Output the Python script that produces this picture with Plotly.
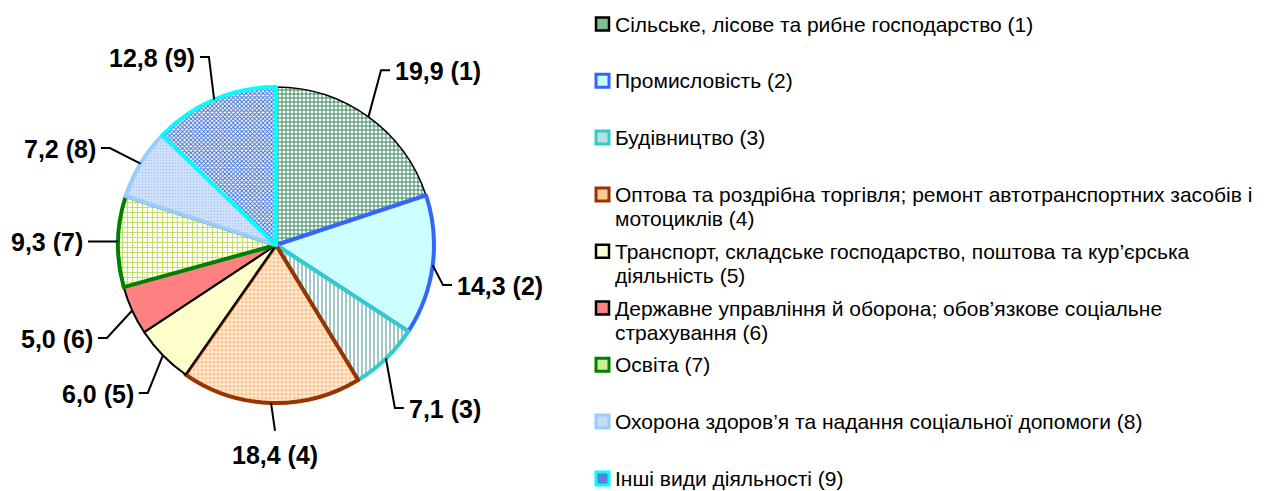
import math
import plotly.graph_objects as go

# ---------------- data ----------------
categories = [
    "Сільське, лісове та рибне господарство (1)",
    "Промисловість (2)",
    "Будівництво (3)",
    "Оптова та роздрібна торгівля; ремонт автотранспортних засобів і<br>мотоциклів (4)",
    "Транспорт, складське господарство, поштова та кур’єрська<br>діяльність (5)",
    "Державне управління й оборона; обов’язкове соціальне<br>страхування (6)",
    "Освіта (7)",
    "Охорона здоров’я та надання соціальної допомоги (8)",
    "Інші види діяльності (9)",
]
slice_numbers = [1, 2, 3, 4, 5, 6, 7, 8, 9]
shares = [19.9, 14.3, 7.1, 18.4, 6.0, 5.0, 9.3, 7.2, 12.8]

# ---------------- styles ----------------
W, H = 1268, 491
CX, CY, R = 276, 245, 158          # pie centre / radius in px
FONT = "Liberation Sans, Arial, sans-serif"

fill_colors = ["#FFFFFF", "#CCFFFF", "#FFFFFF", "#FFEBD6", "#FFFFCC",
               "#FF8080", "#FFFFF2", "#D6E6FF", "#FFFFFF"]
pattern_shapes = ["+", "", "|", ".", "", "", "+", ".", "x"]
pattern_fg = ["#1E7A45", "#CCFFFF", "#5FA3A3", "#FFC48A", "#FFFFCC",
              "#FF8080", "#B2D94C", "#AFCBF2", "#3366CC"]
pattern_size = [4, 4, 4, 4, 4, 4, 5, 3, 3]
pattern_solid = [0.4, 0.3, 0.3, 0.45, 0.3, 0.3, 0.3, 0.4, 0.5]
border_colors = ["#000000", "#3366FF", "#33CCCC", "#993300", "#000000",
                 "#000000", "#008000", "#99CCFF", "#00FFFF"]
border_widths = [1.5, 4, 4, 4, 2, 2, 4, 4, 4]
swatch_fill = ["#7DBF8E", "#CCFFFF", "#B8E0E0", "#FFCC99", "#FFFFCC",
               "#FF8080", "#CCEE99", "#C8DDF5", "#5A80D8"]
swatch_line_w = [2.5, 3, 3, 3, 2.5, 2.5, 3, 3, 3]

# label placement (elbow position relative to slice mid-angle)
label_angle_shift = [-4.8, 6.1, 8.0, -1.5, -4.8, -4.3, -0.1, -0.7, 3.4]
label_radius = [1.29, 1.087, 1.277, 1.177, 1.239, 1.221, 1.133, 1.217, 1.263]

def px_x(x):
    return x / W

def px_y(y):
    return 1 - y / H

fig = go.Figure()
fig.add_trace(go.Pie(
    values=shares,
    labels=[f"({n})" for n in slice_numbers],
    sort=False,
    direction="clockwise",
    rotation=0,
    textinfo="none",
    hoverinfo="label+value",
    showlegend=False,
    domain=dict(x=[px_x(CX - R), px_x(CX + R)], y=[px_y(CY + R), px_y(CY - R)]),
    marker=dict(
        colors=fill_colors,
        line=dict(color=border_colors, width=border_widths),
        pattern=dict(shape=pattern_shapes, fgcolor=pattern_fg, bgcolor=fill_colors,
                     size=pattern_size, solidity=pattern_solid),
    ),
))

shapes = []
annotations = []
total = sum(shares)
cum = 0.0
for i, v in enumerate(shares):
    mid = (cum + v / 2) / total * 360.0
    cum += v
    a = math.radians(mid)
    ex, ey = CX + R * math.sin(a), CY - R * math.cos(a)
    b = math.radians(mid + label_angle_shift[i])
    kx = CX + R * label_radius[i] * math.sin(b)
    ky = CY - R * label_radius[i] * math.cos(b)
    text = f"{v:.1f}".replace(".", ",") + f" ({slice_numbers[i]})"
    if abs(math.sin(b)) < 0.2 and math.cos(b) < 0:   # bottom label
        path = f"M {px_x(ex)},{px_y(ey)} L {px_x(kx)},{px_y(ky)}"
        annotations.append(dict(x=px_x(kx), y=px_y(ky + 8), xref="paper", yref="paper",
                                xanchor="center", yanchor="top", text=f"<b>{text}</b>",
                                showarrow=False, font=dict(family=FONT, size=25, color="black")))
    else:
        side = 1 if math.sin(b) > 0 else -1
        hx = kx + side * 9
        path = f"M {px_x(ex)},{px_y(ey)} L {px_x(kx)},{px_y(ky)} L {px_x(hx)},{px_y(ky)}"
        annotations.append(dict(x=px_x(kx + side * 12), y=px_y(ky + 1), xref="paper", yref="paper",
                                xanchor="left" if side > 0 else "right", yanchor="middle",
                                text=f"<b>{text}</b>", showarrow=False,
                                font=dict(family=FONT, size=25, color="black")))
    shapes.append(dict(type="path", path=path, xref="paper", yref="paper",
                       line=dict(color="black", width=2), layer="above"))

# ---------------- legend (manual) ----------------
LEG_X, LEG_Y0, LEG_DY, LINE_DY = 614, 24, 56.8, 24
for i, name in enumerate(categories):
    yc = LEG_Y0 + LEG_DY * i
    shapes.append(dict(type="rect", xref="paper", yref="paper",
                       x0=px_x(596), x1=px_x(609), y0=px_y(yc + 6.5), y1=px_y(yc - 6.5),
                       fillcolor=swatch_fill[i], opacity=1,
                       line=dict(color=border_colors[i], width=swatch_line_w[i])))
    for j, line in enumerate(name.split("<br>")):
        annotations.append(dict(x=px_x(LEG_X), y=px_y(yc + j * LINE_DY), xref="paper", yref="paper",
                                xanchor="left", yanchor="middle", text=line, showarrow=False,
                                borderpad=0,
                                font=dict(family=FONT, size=21, color="black")))

fig.update_layout(
    width=W, height=H,
    margin=dict(l=0, r=0, t=0, b=0),
    paper_bgcolor="white", plot_bgcolor="white",
    shapes=shapes, annotations=annotations,
    showlegend=False,
)

fig.write_html("out.html", config={"displayModeBar": False},
               post_script="document.body.style.margin='0';")
